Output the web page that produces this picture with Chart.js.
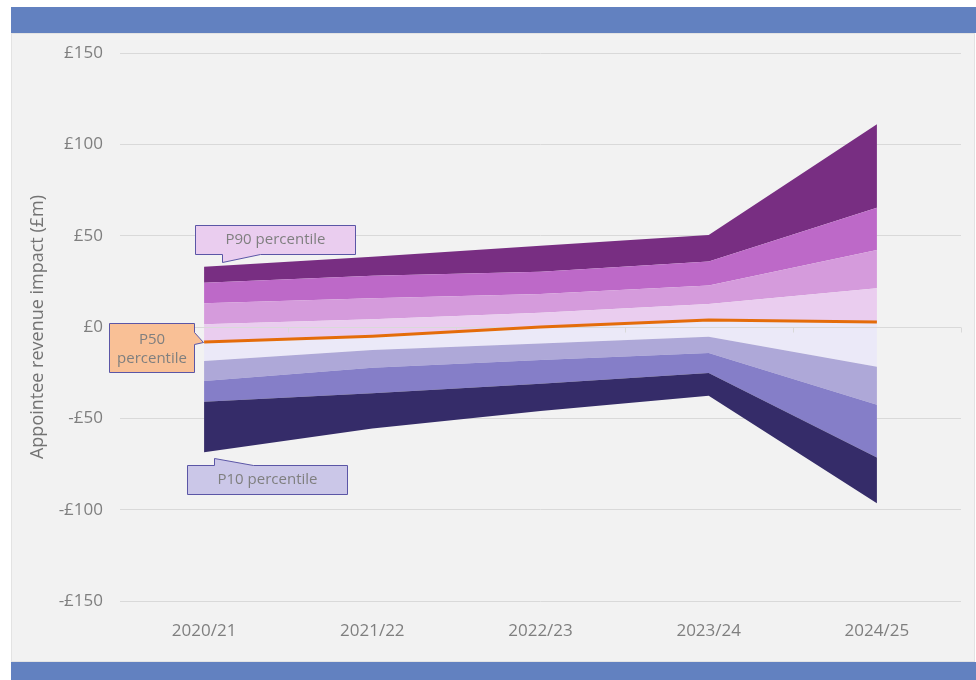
<!DOCTYPE html>
<html>
<head>
<meta charset="utf-8">
<script src="https://cdn.jsdelivr.net/npm/chart.js@4.4.1/dist/chart.umd.min.js"></script>
<style>
  body { margin: 0; background: #fff; width: 976px; height: 680px; position: relative; overflow: hidden; }
  .bar { position: absolute; left: 11px; width: 965px; background: #6281c0; }
  #topBar { top: 7px; height: 26px; }
  #bottomBar { top: 662px; height: 18px; }
  #panel { position: absolute; left: 11px; top: 33px; width: 964px; height: 629px;
           background: #f2f2f2; box-shadow: inset 0 0 0 1px #e3e3e3; }
  canvas { display: block; }
</style>
</head>
<body>
<div class="bar" id="topBar"></div>
<div id="panel"><canvas id="fanChart" width="964" height="629"></canvas></div>
<div class="bar" id="bottomBar"></div>
<script>
// Financial years
const years = ['2020/21', '2021/22', '2022/23', '2023/24', '2024/25'];

// Percentile boundaries (£m)
const p90 = [33.0, 38.5, 44.5, 50.4, 111.0];
const p80 = [24.2, 28.1, 30.3, 35.8, 65.3];
const p70 = [13.0, 15.7, 18.0, 22.7, 42.1];
const p60 = [1.5, 4.2, 7.8, 12.6, 21.2];
const p50 = [-8.2, -5.0, 0.0, 3.8, 2.7];
const p40 = [-18.6, -12.6, -9.0, -5.3, -21.7];
const p30 = [-29.6, -22.3, -18.0, -14.2, -42.5];
const p20 = [-40.9, -36.3, -31.0, -25.2, -71.5];
const p10 = [-68.6, -55.5, -46.0, -37.6, -96.5];

const yTicks = [-150, -100, -50, 0, 50, 100, 150];

const FONT = '"Open Sans", "Noto Sans", sans-serif';
const GREY = '#7f7f7f';

function band(data, colour) {
    return {
        data: data,
        fill: colour ? '-1' : false,
        backgroundColor: colour || 'transparent',
        borderColor: 'transparent',
        borderWidth: 0,
        pointRadius: 0,
        tension: 0,
        order: 1
    };
}

// axis line on zero, with Excel-style tick marks between categories
function drawZeroAxis(chart) {
    const ctx = chart.ctx;
    const area = chart.chartArea;
    const y0 = Math.round(chart.scales.y.getPixelForValue(0)) + 0.5;
    const step = (area.right - area.left) / years.length;
    ctx.save();
    ctx.strokeStyle = '#d9d9d9';
    ctx.lineWidth = 1;
    ctx.beginPath();
    ctx.moveTo(area.left, y0);
    ctx.lineTo(area.right, y0);
    for (let i = 0; i <= years.length; i++) {
        const x = Math.round(area.left + i * step) + 0.5;
        ctx.moveTo(x, y0);
        ctx.lineTo(x, y0 + 5);
    }
    ctx.stroke();
    ctx.restore();
}

function callout(ctx, shape, fill, lines, cx, cy, lineGap) {
    ctx.save();
    ctx.beginPath();
    shape.forEach((p, i) => i ? ctx.lineTo(p[0], p[1]) : ctx.moveTo(p[0], p[1]));
    ctx.closePath();
    ctx.fillStyle = fill;
    ctx.fill();
    ctx.strokeStyle = '#5b56a6';
    ctx.lineWidth = 1;
    ctx.stroke();
    ctx.fillStyle = GREY;
    ctx.font = '15px ' + FONT;
    ctx.textAlign = 'center';
    ctx.textBaseline = 'middle';
    const start = cy - (lines.length - 1) * lineGap / 2;
    lines.forEach((t, i) => ctx.fillText(t, cx, start + i * lineGap));
    ctx.restore();
}

const fanPlugin = {
    id: 'fanExtras',
    beforeDatasetDraw(chart, args) {
        if (args.index === 0) drawZeroAxis(chart);
    },
    afterDatasetsDraw(chart) {
        const ctx = chart.ctx;
        const xs = chart.scales.x, ys = chart.scales.y;
        const x0 = xs.getPixelForValue(0);

        // P90 label, pointer down to the top band
        let tx = Math.round(x0 + 18) + 0.5, ty = Math.round(ys.getPixelForValue(p90[0]) - 5) + 0.5;
        let l = tx - 27, r = tx + 133, t = ty - 37, b = ty - 8;
        callout(ctx, [[l, t], [r, t], [r, b], [tx + 38, b], [tx, ty], [tx, b], [l, b]],
            '#eacdef', ['P90 percentile'], (l + r) / 2, (t + b) / 2, 0);

        // P50 label, pointer right to the median line
        tx = Math.round(x0 - 1) + 0.5; ty = Math.round(ys.getPixelForValue(p50[0])) + 0.5;
        l = tx - 94; r = tx - 9; t = ty - 19; b = ty + 30;
        callout(ctx, [[l, t], [r, t], [r, ty - 10], [tx, ty], [r, ty + 2], [r, b], [l, b]],
            '#f9c096', ['P50', 'percentile'], (l + r) / 2, (t + b) / 2 + 1, 19);

        // P10 label, pointer up to the bottom band
        tx = Math.round(x0 + 10) + 0.5; ty = Math.round(ys.getPixelForValue(p10[0]) + 6) + 0.5;
        l = tx - 27; r = tx + 133; t = ty + 7; b = ty + 36;
        callout(ctx, [[l, t], [tx, t], [tx, ty], [tx + 39, t], [r, t], [r, b], [l, b]],
            '#cbc7e8', ['P10 percentile'], (l + r) / 2, (t + b) / 2, 0);
    }
};

new Chart(document.getElementById('fanChart'), {
    type: 'line',
    data: {
        labels: years,
        datasets: [
            {
                data: p50,
                fill: false,
                borderColor: '#e46c0a',
                borderWidth: 3,
                pointRadius: 0,
                tension: 0,
                order: 0
            },
            band(p10, null),
            band(p20, '#352c69'),
            band(p30, '#857ec8'),
            band(p40, '#aea8d8'),
            band(p50, '#ebe9f8'),
            band(p60, '#eacdef'),
            band(p70, '#d59bdc'),
            band(p80, '#bd69c8'),
            band(p90, '#782e82')
        ]
    },
    options: {
        responsive: false,
        animation: false,
        layout: { padding: { left: 0, right: 14, top: 20, bottom: 0 } },
        plugins: {
            legend: { display: false },
            tooltip: { enabled: false }
        },
        scales: {
            x: {
                offset: true,
                grid: { display: false },
                border: { display: false },
                ticks: { color: GREY, font: { family: FONT, size: 17 }, padding: 12 },
                afterFit: function(scale) { scale.height = 61; }
            },
            y: {
                min: -150,
                max: 150,
                afterBuildTicks: function(scale) { scale.ticks = yTicks.map(v => ({ value: v })); },
                grid: { color: '#d9d9d9', drawTicks: false },
                border: { display: false },
                ticks: {
                    color: GREY,
                    font: { family: FONT, size: 17 },
                    padding: 17,
                    callback: v => (v < 0 ? '-£' : '£') + Math.abs(v)
                },
                title: {
                    display: true,
                    text: 'Appointee revenue impact (£m)',
                    color: '#737373',
                    font: { family: FONT, size: 18 },
                    padding: { top: 16, bottom: 0 }
                },
                afterFit: function(scale) {
                    scale.width = 109;
                    scale.paddingTop = 10;
                    scale.paddingBottom = 10;
                }
            }
        }
    },
    plugins: [fanPlugin]
});
</script>
</body>
</html>
